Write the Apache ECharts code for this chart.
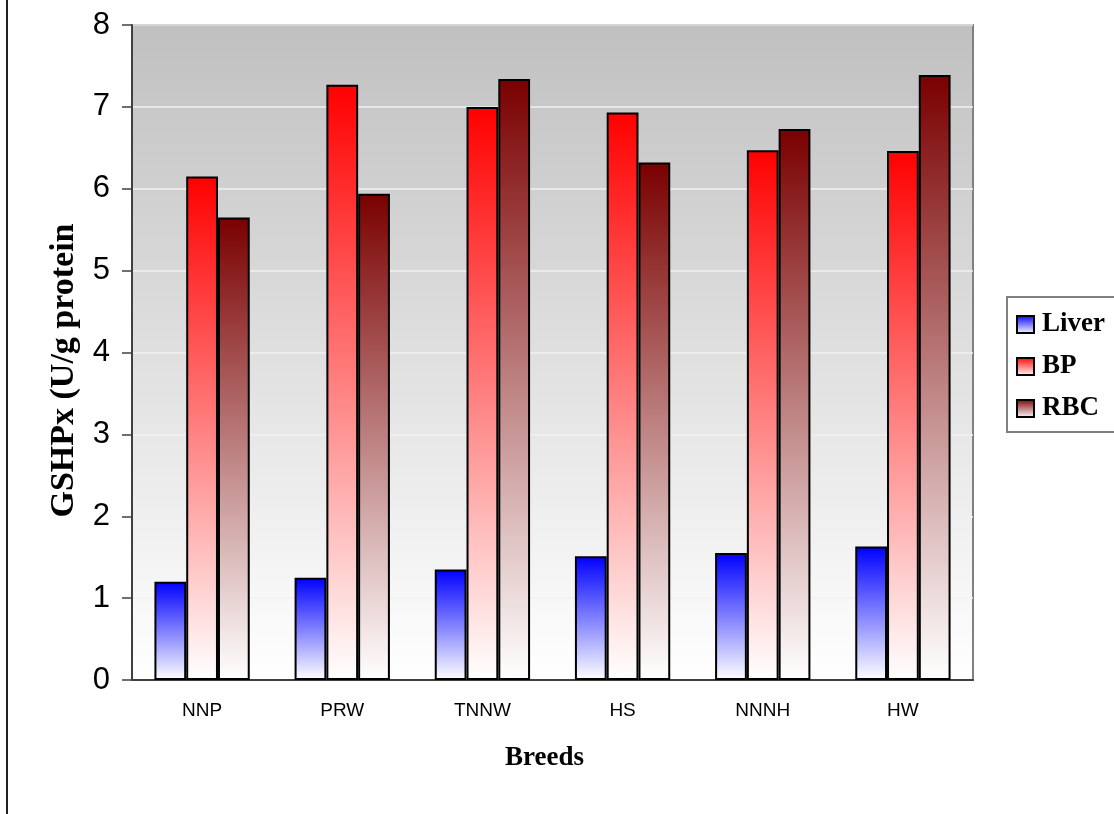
<!DOCTYPE html>
<html>
<head>
<meta charset="utf-8">
<title>GSHPx by breed</title>
<script src="https://cdn.jsdelivr.net/npm/echarts@6/dist/echarts.min.js"></script>
<style>
  html, body { margin: 0; padding: 0; background: #ffffff; }
  #chart { width: 1114px; height: 814px; }
</style>
</head>
<body>
<div id="chart"></div>
<script>
// Breeds along the x axis
const breeds = ['NNP', 'PRW', 'TNNW', 'HS', 'NNNH', 'HW'];

// GSHPx activity (U/g protein) per tissue
const liver = [1.20, 1.25, 1.35, 1.51, 1.55, 1.63];
const bp    = [6.15, 7.27, 7.00, 6.93, 6.47, 6.46];
const rbc   = [5.65, 5.94, 7.34, 6.32, 6.73, 7.39];

// value axis ticks
const yTicks = [0, 1, 2, 3, 4, 5, 6, 7, 8];

function fadeToWhite(top) {
  return new echarts.graphic.LinearGradient(0, 0, 0, 1, [
    { offset: 0, color: top },
    { offset: 1, color: '#ffffff' }
  ]);
}

const chart = echarts.init(document.getElementById('chart'), null, { renderer: 'canvas' });

function barSeries(name, data, topColor) {
  return {
    name: name,
    type: 'bar',
    data: data,
    barGap: '0%',
    barCategoryGap: '32%',
    itemStyle: {
      color: fadeToWhite(topColor),
      borderColor: '#000000',
      borderWidth: 2
    },
    emphasis: { disabled: true }
  };
}

chart.setOption({
  animation: false,
  backgroundColor: '#ffffff',
  grid: {
    left: 132,
    top: 25,
    right: 141,
    bottom: 134,
    show: true,
    borderColor: '#808080',
    borderWidth: 2,
    backgroundColor: new echarts.graphic.LinearGradient(0, 0, 0, 1, [
      { offset: 0, color: '#c0c0c0' },
      { offset: 1, color: '#ffffff' }
    ])
  },
  legend: {
    orient: 'vertical',
    left: 1007,
    top: 297,
    padding: [14, 20, 10, 9],
    itemGap: 15,
    itemWidth: 17,
    itemHeight: 17,
    borderColor: '#808080',
    borderWidth: 2,
    backgroundColor: '#ffffff',
    icon: 'rect',
    textStyle: {
      fontFamily: 'Liberation Serif, Times New Roman, serif',
      fontWeight: 'bold',
      fontSize: 27,
      color: '#000000',
      padding: [0, 0, 0, 3]
    },
    data: ['Liver', 'BP', 'RBC']
  },
  xAxis: {
    type: 'category',
    data: breeds,
    name: 'Breeds',
    nameLocation: 'middle',
    nameGap: 65,
    nameTextStyle: {
      fontFamily: 'Liberation Serif, Times New Roman, serif',
      fontWeight: 'bold',
      fontSize: 27,
      color: '#000000',
      padding: [0, 16, 0, 0]
    },
    axisLine: { lineStyle: { color: '#404040', width: 2 } },
    axisTick: { length: 6, lineStyle: { color: '#404040', width: 1.5 } },
    axisLabel: {
      margin: 21,
      fontFamily: 'Liberation Sans, Arial, sans-serif',
      fontSize: 19,
      color: '#000000'
    },
    splitLine: { show: false }
  },
  yAxis: {
    type: 'value',
    min: yTicks[0],
    max: yTicks[yTicks.length - 1],
    interval: 1,
    name: 'GSHPx (U/g protein',
    nameLocation: 'middle',
    nameGap: 51,
    nameTextStyle: {
      fontFamily: 'Liberation Serif, Times New Roman, serif',
      fontWeight: 'bold',
      fontSize: 34,
      color: '#000000',
      padding: [0, 36, 0, 0]
    },
    axisLine: { show: true, lineStyle: { color: '#404040', width: 2 } },
    axisTick: { show: true, length: 10, lineStyle: { color: '#404040', width: 1.5 } },
    axisLabel: {
      margin: 22,
      fontFamily: 'Liberation Sans, Arial, sans-serif',
      fontSize: 31,
      color: '#000000'
    },
    splitLine: { lineStyle: { color: '#f2f2f2', width: 1.5 } }
  },
  graphic: [
    {
      type: 'line',
      shape: { x1: 7, y1: 0, x2: 7, y2: 814 },
      style: { stroke: '#202020', lineWidth: 2 },
      silent: true
    }
  ],
  series: [
    barSeries('Liver', liver, '#0000ff'),
    barSeries('BP', bp, '#ff0000'),
    barSeries('RBC', rbc, '#7a0000')
  ]
});
</script>
</body>
</html>
